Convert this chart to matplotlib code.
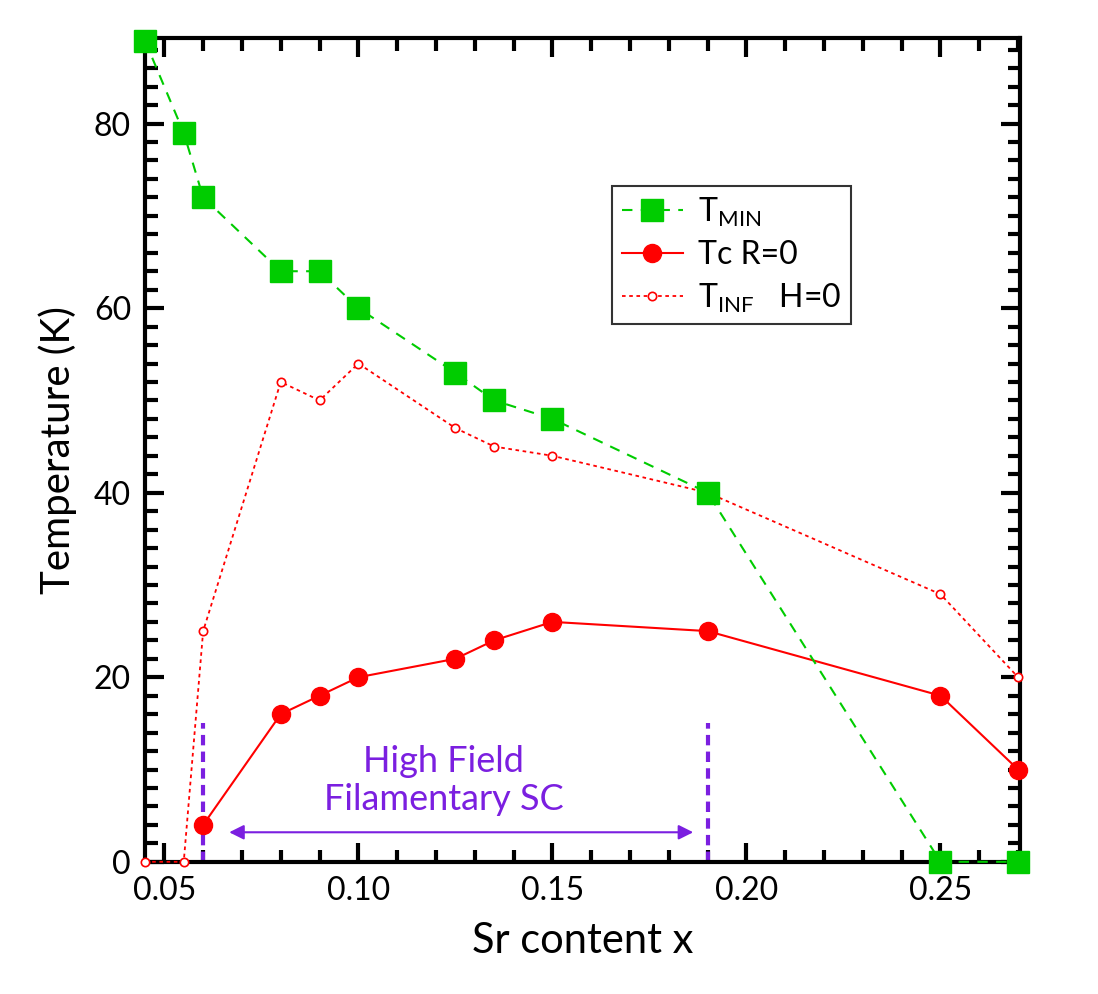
import numpy as np
import matplotlib.pyplot as plt
from matplotlib.ticker import MultipleLocator

# datos
x_min = [0.045, 0.055, 0.06, 0.08, 0.09, 0.10, 0.125, 0.135, 0.15, 0.19, 0.25, 0.27]
t_min = [89, 79, 72, 64, 64, 60, 53, 50, 48, 40, 0, 0]

x_tc = [0.06, 0.08, 0.09, 0.10, 0.125, 0.135, 0.15, 0.19, 0.25, 0.27]
t_c = [4, 16, 18, 20, 22, 24, 26, 25, 18, 10]

x_inf = [0.045, 0.055, 0.06, 0.08, 0.09, 0.10, 0.125, 0.135, 0.15, 0.19, 0.25, 0.27]
t_inf = [0, 0, 25, 52, 50, 54, 47, 45, 44, 40, 29, 20]

sc_limits = [0.06, 0.19]
purple = '#7B1FE0'

plt.rcParams['font.family'] = ['Lato', 'DejaVu Sans']

fig = plt.figure(figsize=(10.98, 9.94), dpi=100)
ax = fig.add_axes([0.132, 0.133, 0.797, 0.829])

ax.plot(x_min, t_min, color='#00CC00', linestyle=(0, (5, 4)), linewidth=1.5,
        marker='s', markersize=16, label='T$_{\\mathregular{MIN}}$', clip_on=False, zorder=4)
ax.plot(x_tc, t_c, color='#FF0000', linestyle='-', linewidth=1.5,
        marker='o', markersize=13, label='Tc R=0', clip_on=False, zorder=3)
ax.plot(x_inf, t_inf, color='#FF0000', linestyle=(0, (2, 2)), linewidth=1.3,
        marker='o', markersize=6, markerfacecolor='white', markeredgewidth=1.2,
        label='T$_{\\mathregular{INF}}$   H=0', clip_on=False, zorder=3)

for xv in sc_limits:
    ax.plot([xv, xv], [0, 15], color=purple, linestyle=(0, (2.5, 1.5)), linewidth=3, zorder=2)

ax.annotate('', xy=(0.066, 3.2), xytext=(0.187, 3.2),
            arrowprops=dict(arrowstyle='<|-|>', color=purple, lw=1.5, mutation_scale=22))
ax.text(0.122, 8.8, 'High Field\nFilamentary SC', color=purple, fontsize=26,
        ha='center', va='center', linespacing=1.2)

ax.set_xlim(0.045, 0.2705)
ax.set_ylim(0, 89.3)
ax.xaxis.set_minor_locator(MultipleLocator(0.01))
ax.yaxis.set_major_locator(MultipleLocator(20))
ax.yaxis.set_minor_locator(MultipleLocator(2))
ax.set_xticks([0.05, 0.10, 0.15, 0.20, 0.25])
ax.set_xticklabels(['0.05', '0.10', '0.15', '0.20', '0.25'])

ax.tick_params(which='both', direction='in', top=True, right=True, width=3, labelsize=23, pad=10)
ax.tick_params(which='major', length=14)
ax.tick_params(which='minor', length=9)
for s in ax.spines.values():
    s.set_linewidth(3)

ax.set_xlabel('Sr content x', fontsize=30, labelpad=12)
ax.set_ylabel('Temperature (K)', fontsize=29, labelpad=12)

leg = ax.legend(loc='upper left', bbox_to_anchor=(0.534, 0.82), fontsize=23,
                frameon=True, fancybox=False, edgecolor='black', handlelength=1.9,
                borderpad=0.3, labelspacing=0.35, handletextpad=0.5, borderaxespad=0)
leg.get_frame().set_linewidth(1.5)

fig.savefig('out.png', dpi=100)
